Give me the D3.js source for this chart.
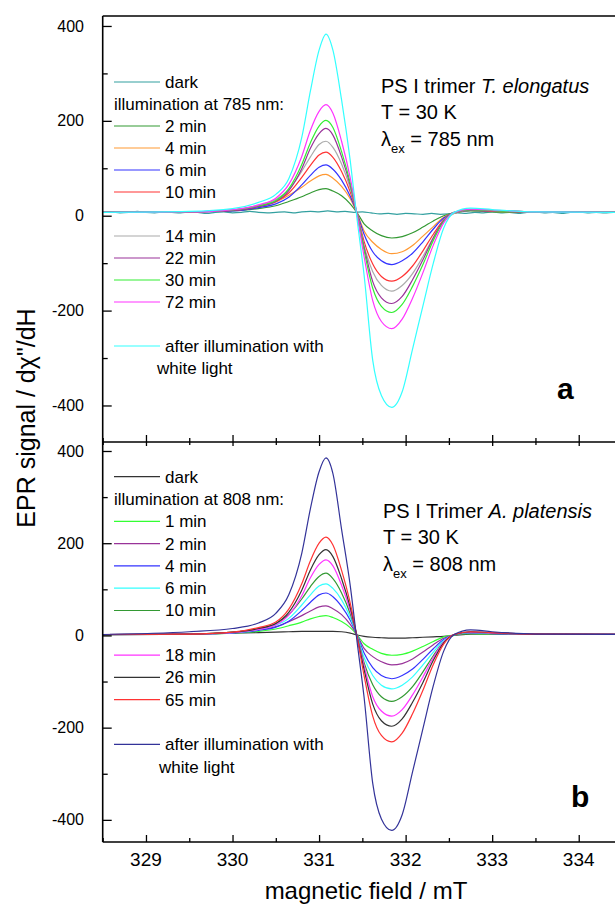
<!DOCTYPE html>
<html>
<head>
<meta charset="utf-8">
<script src="https://cdn.jsdelivr.net/npm/d3@7"></script>
<style>
  body { margin: 0; background: #fff; }
  svg { display: block; font-family: "Liberation Sans", Arial, sans-serif; }
</style>
</head>
<body>
<svg id="chart" width="615" height="906"></svg>
<script>
// magnetic field grid (mT) shared by the light-induced spectra
var field = [328.5, 329.5, 330.0, 330.3, 330.5, 330.65, 330.8, 330.9, 331.0, 331.08, 331.16, 331.26, 331.36, 331.44,
  331.52, 331.62, 331.72, 331.84, 331.96, 332.08, 332.2, 332.32, 332.44, 332.56, 332.75, 333.0, 333.5, 334.5];

// dark spectrum of panel a is noisy, read on a finer grid
var fieldFine = [328.5, 328.6, 328.7, 328.8, 328.9, 329.0, 329.1, 329.2, 329.3, 329.4,
  329.5, 329.6, 329.7, 329.8, 329.9, 330.0, 330.1, 330.2, 330.3, 330.4,
  330.5, 330.6, 330.7, 330.8, 330.9, 331.0, 331.1, 331.2, 331.3, 331.4,
  331.5, 331.6, 331.7, 331.8, 331.9, 332.0, 332.1, 332.2, 332.3, 332.4,
  332.5, 332.6, 332.7, 332.8, 332.9, 333.0, 333.1, 333.2, 333.3, 333.4,
  333.5, 333.6, 333.7, 333.8, 333.9, 334.0, 334.1, 334.2, 334.3, 334.4, 334.5];

// panel a: T. elongatus, 785 nm
var te_dark = [7, 8, 6, 7, 9, 7, 6, 8, 7, 6, 8, 7, 5, 7, 8, 6, 7, 9, 7, 6, 7, 8, 6, 8, 9, 8, 10, 8, 9, 7,
  8, 6, 4, 5, 3, 5, 4, 3, 5, 3, 4, 6, 5, 7, 6, 8, 6, 7, 5, 7, 8, 6, 7, 5, 7, 8, 6, 7, 6, 7, 7];
var te_2 = [7, 8, 10, 15, 21, 30, 40, 48, 55, 57, 52, 42, 25, 6, -17, -32, -42, -47, -44, -36, -24, -11, 0, 6, 10, 8, 7, 7];
var te_4 = [7, 8, 12, 20, 29, 43, 60, 73, 84, 87, 79, 62, 36, 5, -32, -56, -71, -80, -76, -63, -43, -23, -3, 5, 11, 9, 8, 7];
var te_6 = [7, 8, 10, 17, 25, 39, 65, 85, 102, 107, 98, 75, 41, 5, -39, -76, -95, -103, -95, -79, -55, -28, -5, 6, 11, 10, 8, 7];
var te_10 = [7, 8, 11, 20, 30, 48, 81, 106, 128, 134, 123, 93, 50, 4, -54, -102, -128, -138, -128, -106, -74, -39, -9, 6, 12, 10, 8, 7];
var te_14 = [7, 8, 12, 22, 34, 55, 94, 124, 150, 157, 144, 109, 58, 4, -63, -118, -147, -159, -147, -122, -86, -46, -11, 5, 13, 11, 8, 7];
var te_22 = [7, 8, 11, 19, 30, 53, 99, 142, 173, 184, 170, 124, 64, 1, -66, -139, -173, -185, -170, -135, -93, -47, -10, 7, 12, 11, 8, 7];
var te_30 = [7, 8, 12, 21, 32, 57, 108, 154, 189, 201, 186, 135, 69, 1, -73, -153, -191, -204, -187, -149, -103, -52, -12, 7, 13, 11, 8, 7];
var te_72 = [7, 8, 13, 23, 37, 66, 125, 180, 220, 234, 216, 157, 80, 0, -86, -179, -223, -238, -218, -174, -120, -62, -15, 7, 14, 12, 8, 7];
var te_white = [7, 9, 15, 28, 45, 78, 165, 263, 349, 383, 349, 244, 116, -9, -125, -305, -379, -404, -371, -281, -190, -100, -26, 7, 16, 13, 8, 7];

// panel b: A. platensis, 808 nm
var ap_dark = [1, 3, 5, 6, 7, 8, 9, 9, 9, 9, 9, 8, 5, 1, -2, -4, -5, -6, -6, -5, -4, -3, -2, 0, 3, 3, 2, 2];
var ap_1 = [2, 2, 5, 9, 14, 21, 29, 36, 41, 43, 39, 30, 17, 1, -18, -30, -39, -43, -41, -34, -24, -13, -3, 1, 4, 3, 2, 2];
var ap_2 = [2, 3, 6, 12, 19, 30, 43, 53, 62, 64, 58, 45, 24, 1, -28, -46, -57, -64, -61, -51, -36, -20, -6, 1, 5, 4, 3, 2];
var ap_4 = [2, 3, 5, 11, 18, 31, 54, 72, 88, 92, 84, 63, 33, 0, -38, -70, -87, -94, -87, -73, -52, -29, -9, 1, 6, 4, 3, 2];
var ap_6 = [2, 3, 6, 13, 22, 37, 66, 88, 107, 112, 102, 77, 39, 0, -48, -87, -108, -116, -108, -90, -64, -36, -11, 1, 6, 5, 3, 2];
var ap_10 = [2, 3, 7, 15, 26, 45, 79, 106, 128, 135, 123, 92, 47, -1, -59, -107, -133, -143, -133, -111, -79, -44, -14, 1, 7, 5, 3, 2];
var ap_18 = [2, 3, 6, 13, 23, 44, 86, 125, 154, 164, 151, 109, 54, -3, -65, -133, -164, -175, -161, -129, -90, -48, -14, 2, 7, 5, 3, 2];
var ap_26 = [2, 3, 7, 15, 26, 50, 98, 142, 175, 186, 171, 123, 61, -4, -74, -149, -185, -197, -181, -145, -102, -54, -16, 2, 8, 6, 3, 2];
var ap_65 = [2, 3, 7, 17, 29, 57, 112, 162, 200, 213, 196, 141, 70, -5, -87, -175, -217, -231, -212, -170, -119, -63, -19, 2, 8, 6, 3, 2];
var ap_white = [2, 8, 15, 27, 48, 88, 178, 275, 355, 385, 351, 230, 108, -15, -134, -321, -398, -423, -389, -296, -202, -109, -34, 2, 12, 8, 3, 2];

var xTicks = [329, 330, 331, 332, 333, 334];
var yTicks = [400, 200, 0, -200, -400];

var panels = [
  {
    top: 16, bottom: 442, domain: [-477, 421], letter: 'a', letterX: 557, letterY: 399,
    header: 'illumination at 785 nm:', legendY: 82, legendStep: 22, whiteX: 157,
    title: ['PS I trimer ', 'T. elongatus'], noteX: 381, noteY: 93, lambda: '785 nm',
    series: [
      { label: 'dark', color: '#33a0a0', x: fieldFine, y: te_dark, row: 0 },
      { label: '2 min', color: '#339933', x: field, y: te_2, row: 2 },
      { label: '4 min', color: '#ff9933', x: field, y: te_4, row: 3 },
      { label: '6 min', color: '#3333ff', x: field, y: te_6, row: 4 },
      { label: '10 min', color: '#ff3333', x: field, y: te_10, row: 5 },
      { label: '14 min', color: '#aaaaaa', x: field, y: te_14, row: 7 },
      { label: '22 min', color: '#993399', x: field, y: te_22, row: 8 },
      { label: '30 min', color: '#33ee33', x: field, y: te_30, row: 9 },
      { label: '72 min', color: '#ff33ff', x: field, y: te_72, row: 10 },
      { label: 'after illumination with', color: '#33ffff', x: field, y: te_white, row: 12 }
    ]
  },
  {
    top: 442, bottom: 842, domain: [-448, 419.5], letter: 'b', letterX: 571, letterY: 807,
    header: 'illumination at 808 nm:', legendY: 476.7, legendStep: 22.3, whiteX: 159,
    title: ['PS I Trimer ', 'A. platensis'], noteX: 383, noteY: 518, lambda: '808 nm',
    series: [
      { label: 'dark', color: '#333333', x: field, y: ap_dark, row: 0 },
      { label: '1 min', color: '#33ff33', x: field, y: ap_1, row: 2 },
      { label: '2 min', color: '#993399', x: field, y: ap_2, row: 3 },
      { label: '4 min', color: '#3333ff', x: field, y: ap_4, row: 4 },
      { label: '6 min', color: '#33ffff', x: field, y: ap_6, row: 5 },
      { label: '10 min', color: '#339933', x: field, y: ap_10, row: 6 },
      { label: '18 min', color: '#ff33ff', x: field, y: ap_18, row: 8 },
      { label: '26 min', color: '#333333', x: field, y: ap_26, row: 9 },
      { label: '65 min', color: '#ff3333', x: field, y: ap_65, row: 10 },
      { label: 'after illumination with', color: '#333399', x: field, y: ap_white, row: 12 }
    ]
  }
];

var svg = d3.select('#chart');
var left = 102.7, right = 622;
var x = d3.scaleLinear().domain([328.5, 334.5]).range([left, right]);

panels.forEach(function (p, i) {
  var y = d3.scaleLinear().domain(p.domain).range([p.bottom, p.top]);
  var g = svg.append('g');

  g.append('clipPath').attr('id', 'clip' + i)
    .append('rect').attr('x', left).attr('y', p.top).attr('width', right - left).attr('height', p.bottom - p.top);

  var line = d3.line()
    .x(function (d) { return x(d[0]); })
    .y(function (d) { return y(d[1]); })
    .curve(d3.curveMonotoneX);

  p.series.forEach(function (s) {
    g.append('path')
      .attr('clip-path', 'url(#clip' + i + ')')
      .attr('d', line(d3.zip(s.x, s.y)))
      .attr('fill', 'none')
      .attr('stroke', s.color)
      .attr('stroke-width', 1.2);
  });

  // y axis: labelled ticks every 200, minor every 100, pointing inward
  var yAxis = d3.axisRight(y).tickValues(d3.range(-400, 401, 100)).tickSize(0).tickFormat('');
  var ya = g.append('g').attr('transform', 'translate(' + left + ',0)').call(yAxis);
  ya.select('.domain').remove();
  ya.selectAll('.tick line')
    .attr('x2', function (d) { return d % 200 === 0 ? 9 : 5; })
    .attr('stroke', '#000').attr('stroke-width', 1.3);
  g.selectAll('.ylab').data(yTicks).enter().append('text')
    .attr('x', 84).attr('y', function (d) { return y(d); }).attr('dy', '0.35em')
    .attr('text-anchor', 'end').attr('font-size', 16).text(function (d) { return d; });

  // x ticks on the lower edge of each panel, pointing up
  var xAxis = d3.axisTop(x).tickValues(d3.range(328.5, 334.51, 0.5)).tickSize(0).tickFormat('');
  var xa = g.append('g').attr('transform', 'translate(0,' + p.bottom + ')').call(xAxis);
  xa.select('.domain').remove();
  xa.selectAll('.tick line')
    .attr('y2', function (d) { return Math.abs(d % 1) < 0.01 ? -7 : -4; })
    .attr('stroke', '#000').attr('stroke-width', 1.3);

  // legend
  p.series.forEach(function (s) {
    var ry = p.legendY + s.row * p.legendStep;
    g.append('line').attr('x1', 114).attr('x2', 160).attr('y1', ry).attr('y2', ry)
      .attr('stroke', s.color).attr('stroke-width', 1.2);
    g.append('text').attr('x', 165).attr('y', ry).attr('dy', '0.35em')
      .attr('font-size', 17).text(s.label);
  });
  g.append('text').attr('x', 114).attr('y', p.legendY + p.legendStep).attr('dy', '0.35em')
    .attr('font-size', 17).text(p.header);
  g.append('text').attr('x', p.whiteX).attr('y', p.legendY + 13 * p.legendStep).attr('dy', '0.35em')
    .attr('font-size', 17).text('white light');

  // sample notes
  var t1 = g.append('text').attr('x', p.noteX).attr('y', p.noteY).attr('font-size', 20);
  t1.append('tspan').text(p.title[0]);
  t1.append('tspan').attr('font-style', 'italic').text(p.title[1]);
  g.append('text').attr('x', p.noteX).attr('y', p.noteY + 26).attr('font-size', 20).text('T = 30 K');
  var t3 = g.append('text').attr('x', p.noteX).attr('y', p.noteY + 53).attr('font-size', 20);
  t3.append('tspan').text('λ');
  t3.append('tspan').attr('font-size', 13).attr('dy', 7).text('ex');
  t3.append('tspan').attr('dy', -7).text(' = ' + p.lambda);

  g.append('text').attr('x', p.letterX).attr('y', p.letterY)
    .attr('font-size', 30).attr('font-weight', 'bold').text(p.letter);
});

// shared top-axis ticks of panel b (pointing down)
var xb = svg.append('g').attr('transform', 'translate(0,442)')
  .call(d3.axisBottom(x).tickValues(d3.range(328.5, 334.51, 0.5)).tickSize(0).tickFormat(''));
xb.select('.domain').remove();
xb.selectAll('.tick line')
  .attr('y2', function (d) { return Math.abs(d % 1) < 0.01 ? 4 : 3; })
  .attr('stroke', '#000').attr('stroke-width', 1.3);

// frame
var frame = svg.append('g').attr('stroke', '#000').attr('stroke-width', 1.6).attr('fill', 'none');
[16, 442, 842].forEach(function (yy) {
  frame.append('line').attr('x1', left).attr('x2', right).attr('y1', yy).attr('y2', yy);
});
frame.append('line').attr('x1', left).attr('x2', left).attr('y1', 16).attr('y2', 842);

// x tick labels and titles
svg.selectAll('.xlab').data(xTicks).enter().append('text')
  .attr('x', function (d) { return x(d); }).attr('y', 866)
  .attr('text-anchor', 'middle').attr('font-size', 19).text(function (d) { return d; });

svg.append('text').attr('x', 366).attr('y', 899).attr('text-anchor', 'middle')
  .attr('font-size', 24).text('magnetic field / mT');

svg.append('text').attr('transform', 'translate(35,418) rotate(-90)')
  .attr('text-anchor', 'middle').attr('font-size', 25)
  .text('EPR signal /  d\u03c7"/dH');
</script>
</body>
</html>
